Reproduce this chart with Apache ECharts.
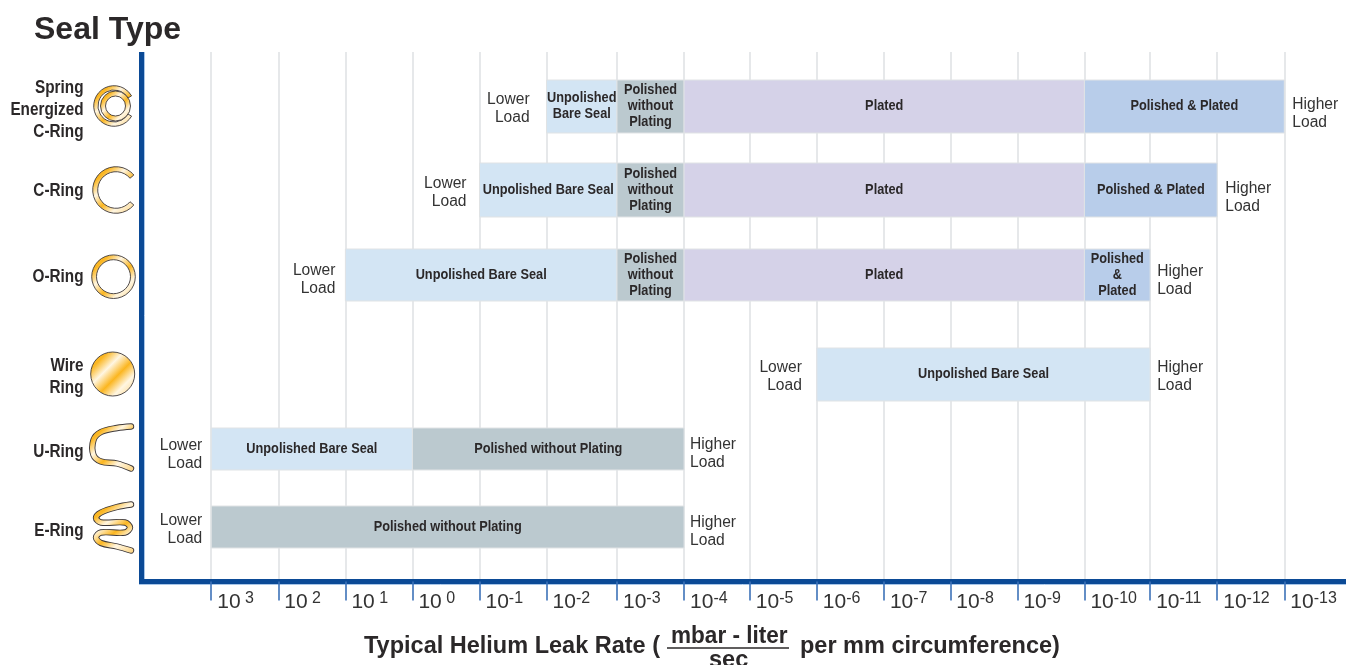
<!DOCTYPE html>
<html lang="en">
<head>
    <meta charset="UTF-8">
    <title>Seal Type</title>
    <script src="https://cdn.jsdelivr.net/npm/echarts@6/dist/echarts.min.js"></script>
    <style>
        html, body { margin: 0; padding: 0; background: #fff; }
        #main { width: 1346px; height: 665px; }
    </style>
</head>
<body>
<div id="main"></div>
<script>
    // chart data
    var sealNames = ['Spring\nEnergized\nC-Ring', 'C-Ring', 'O-Ring', 'Wire\nRing', 'U-Ring', 'E-Ring'];
    var exponents = ['3', '2', '1', '0', '-1', '-2', '-3', '-4', '-5', '-6', '-7', '-8', '-9', '-10', '-11', '-12', '-13'];
    // the decades are not quite evenly spaced in the picture
    var decadeSteps = [0, 1, 2, 3, 4, 5, 6.05, 7.05, 8.03, 9.03, 10.03, 11.02, 12.02, 13.02, 14, 15, 16];

    // one [first decade, last decade, finish, text] per band
    var springBands = [[5, 6, 'bare', 'Unpolished\nBare Seal'], [6, 7, 'polished', 'Polished\nwithout\nPlating'], [7, 13, 'plated', 'Plated'], [13, 16, 'both', 'Polished & Plated']];
    var cRingBands = [[4, 6, 'bare', 'Unpolished Bare Seal'], [6, 7, 'polished', 'Polished\nwithout\nPlating'], [7, 13, 'plated', 'Plated'], [13, 15, 'both', 'Polished & Plated']];
    var oRingBands = [[2, 6, 'bare', 'Unpolished Bare Seal'], [6, 7, 'polished', 'Polished\nwithout\nPlating'], [7, 13, 'plated', 'Plated'], [13, 14, 'both', 'Polished\n&\nPlated']];
    var wireBands = [[9, 14, 'bare', 'Unpolished Bare Seal']];
    var uRingBands = [[0, 3, 'bare', 'Unpolished Bare Seal'], [3, 7, 'polished', 'Polished without Plating']];
    var eRingBands = [[0, 7, 'polished', 'Polished without Plating']];
    var sealBands = [springBands, cRingBands, oRingBands, wireBands, uRingBands, eRingBands];

    // layout, the y axis runs in page pixels
    var finishColors = { bare: '#d3e5f4', polished: '#bbc9cf', plated: '#d5d2e8', both: '#b8cdea' };
    var rowTop = [80, 163, 249, 348, 428, 506];
    var rowBottom = [133, 217, 301, 401, 470, 548];
    var sealLabelY = [110, 191, 277, 377, 452, 531];
    var lowerGap = [17, 13, 10, 15, 9, 9];
    var higherGap = [8, 8, 7, 7, 6, 6];
    var lowerY = [108.5, 192.5, 279.5, 376.5, 454.5, 529.5];
    var higherY = [113.5, 197.5, 280.5, 376.5, 453.5, 531.5];

    var plain = '"Liberation Sans", Arial, sans-serif';
    var ink = '#2b2829';
    // no condensed face is available, so bold text is squeezed sideways
    var squeeze = 0.85;
    var myChart = echarts.init(document.getElementById('main'));

    var bandRows = [];
    var loadRows = [];
    for (var i = 0; i < sealBands.length; i++) {
        for (var j = 0; j < sealBands[i].length; j++) {
            var b = sealBands[i][j];
            bandRows.push([decadeSteps[b[0]], decadeSteps[b[1]], i, b[2], b[3]]);
        }
        var row = sealBands[i];
        loadRows.push([decadeSteps[row[0][0]], decadeSteps[row[row.length - 1][1]], i]);
    }

    function renderBand(params, api) {
        var d = bandRows[params.dataIndex];
        var a = api.coord([d[0], rowTop[d[2]]]);
        var c = api.coord([d[1], rowBottom[d[2]]]);
        var mx = (a[0] + c[0]) / 2;
        var my = (a[1] + c[1]) / 2 - 0.5;
        return {
            type: 'group',
            children: [{
                type: 'rect',
                shape: { x: a[0], y: a[1], width: c[0] - a[0], height: c[1] - a[1] },
                style: { fill: finishColors[d[3]], stroke: '#e0e3e5', lineWidth: 1 }
            }, {
                type: 'text',
                x: mx,
                y: my,
                scaleX: squeeze,
                style: {
                    x: 0,
                    y: 0,
                    text: d[4],
                    fill: ink,
                    font: 'bold 15px ' + plain,
                    lineHeight: 16,
                    align: 'center',
                    verticalAlign: 'middle'
                }
            }]
        };
    }

    function renderLoad(params, api) {
        var d = loadRows[params.dataIndex];
        var r = d[2];
        var low = api.coord([d[0], lowerY[r]]);
        var high = api.coord([d[1], higherY[r]]);
        var font = '15.6px ' + plain;
        return {
            type: 'group',
            children: [{
                type: 'text',
                style: { x: low[0] - lowerGap[r], y: low[1], text: 'Lower\nLoad', fill: '#333', font: font, lineHeight: 18.5, align: 'right', verticalAlign: 'middle' }
            }, {
                type: 'text',
                style: { x: high[0] + higherGap[r], y: high[1], text: 'Higher\nLoad', fill: '#333', font: font, lineHeight: 18.5, align: 'left', verticalAlign: 'middle' }
            }]
        };
    }

    // seal names sit left of the blue axis, right edge at the drawings
    function renderSealName(params, api) {
        var p = api.coord([0, sealLabelY[params.dataIndex]]);
        return {
            type: 'text',
            x: 83.5,
            y: p[1],
            scaleX: squeeze,
            style: {
                x: 0,
                y: 0,
                text: sealNames[params.dataIndex],
                fill: ink,
                font: 'bold 18px ' + plain,
                lineHeight: 22,
                align: 'right',
                verticalAlign: 'middle'
            }
        };
    }

    // gold metal look of the seal drawings
    function gold() {
        return new echarts.graphic.LinearGradient(0, 0, 1, 1, [
            { offset: 0, color: '#fcc34a' },
            { offset: 0.2, color: '#fbb620' },
            { offset: 0.38, color: '#fff6e2' },
            { offset: 0.57, color: '#fbb620' },
            { offset: 0.75, color: '#fff6e2' },
            { offset: 1, color: '#fcd27c' }
        ]);
    }

    var outlineStyle = { fill: gold(), stroke: '#3e393a', lineWidth: 0.9 };

    function cShape(cx, cy, r, r0, gap) {
        return {
            type: 'sector',
            silent: true,
            shape: { cx: cx, cy: cy, r: r, r0: r0, startAngle: gap * Math.PI / 180, endAngle: (360 - gap) * Math.PI / 180 },
            style: outlineStyle
        };
    }

    function wavyShape(points) {
        var line = {
            type: 'polyline',
            silent: true,
            shape: { points: points, smooth: 0.35 },
            style: { fill: null, stroke: '#3e393a', lineWidth: 6.4, lineCap: 'round', lineJoin: 'round' }
        };
        var metal = {
            type: 'polyline',
            silent: true,
            shape: { points: points, smooth: 0.35 },
            style: { fill: null, stroke: gold(), lineWidth: 4.6, lineCap: 'round', lineJoin: 'round' }
        };
        return [line, metal];
    }

    var uRingOutline = [[131, 426.5], [117, 428], [101, 432], [93.5, 440], [93.5, 455], [101, 461.5], [117, 463.5], [131, 468.5]];
    var eRingOutline = [[131, 504.5], [117, 507], [101, 512.5], [96, 518], [101, 522.5], [125, 522.5], [130, 527.5], [125, 532.5], [101, 532.5], [96, 537.5], [101, 543], [117, 546.5], [131, 550.5]];

    var sealDrawings = [
        cShape(114, 106, 20.3, 16, 30),
        { type: 'ring', silent: true, shape: { cx: 115.5, cy: 106, r: 15, r0: 10 }, style: outlineStyle },
        cShape(116, 190, 23.3, 18.3, 40),
        { type: 'ring', silent: true, shape: { cx: 113.5, cy: 276.7, r: 21.8, r0: 17 }, style: outlineStyle },
        { type: 'circle', silent: true, shape: { cx: 112.7, cy: 374, r: 22 }, style: outlineStyle }
    ].concat(wavyShape(uRingOutline), wavyShape(eRingOutline));

    var nameFont = 'bold 23.5px ' + plain;

    var option = {
        animation: false,
        backgroundColor: '#fff',
        title: {
            text: 'Seal Type',
            left: 29,
            top: 9,
            textStyle: { color: ink, fontFamily: plain, fontWeight: 'bold', fontSize: 32 }
        },
        grid: { left: 141.5, right: 0, top: 52, bottom: 83.5 },
        xAxis: {
            type: 'value',
            min: -1.04,
            max: 16.92,
            axisLine: { show: true, onZero: false, lineStyle: { color: '#0b4a96', width: 5, cap: 'square' } },
            axisTick: { show: true, length: 19, customValues: decadeSteps, lineStyle: { color: '#3d72b8', width: 1.6 } },
            splitLine: { show: true, lineStyle: { color: '#e0e3e5', width: 1.6 } },
            axisLabel: {
                customValues: decadeSteps,
                align: 'left',
                margin: 6,
                formatter: function (value) {
                    var e = exponents[decadeSteps.indexOf(value)];
                    return '{base|10}{sup|' + (e.charAt(0) === '-' ? e : ' ' + e) + '}';
                },
                rich: {
                    base: { fontFamily: plain, fontSize: 21, color: '#333', padding: [4, 0, 0, 6] },
                    sup: { fontFamily: plain, fontSize: 16, color: '#333', verticalAlign: 'top', padding: [3, 0, 0, 0] }
                }
            }
        },
        yAxis: {
            type: 'value',
            inverse: true,
            min: 52,
            max: 581.5,
            axisLine: { show: true, onZero: false, lineStyle: { color: '#0b4a96', width: 5, cap: 'butt' } },
            axisTick: { show: false },
            splitLine: { show: false },
            axisLabel: { show: false }
        },
        graphic: [
            // thin light edge the print leaves along the blue axes
            { type: 'line', silent: true, shape: { x1: 144.5, y1: 52, x2: 144.5, y2: 579 }, style: { stroke: '#a8c6e8', lineWidth: 1 } },
            { type: 'line', silent: true, shape: { x1: 139, y1: 584.5, x2: 1346, y2: 584.5 }, style: { stroke: '#a8c6e8', lineWidth: 1 } },
            { type: 'text', left: 364, top: 635, style: { text: 'Typical Helium Leak Rate (', fill: ink, font: nameFont } },
            { type: 'text', left: 671, top: 625, scaleX: 0.96, style: { text: 'mbar - liter', fill: ink, font: nameFont } },
            { type: 'text', left: 709, top: 649, style: { text: 'sec', fill: ink, font: nameFont } },
            { type: 'line', silent: true, shape: { x1: 667, y1: 648, x2: 789, y2: 648 }, style: { stroke: ink, lineWidth: 1.6 } },
            { type: 'text', left: 800, top: 635, style: { text: 'per mm circumference)', fill: ink, font: nameFont } }
        ].concat(sealDrawings),
        series: [{
            type: 'custom',
            name: 'bands',
            clip: false,
            silent: true,
            renderItem: renderBand,
            data: bandRows,
            encode: { x: [0, 1], y: 2 }
        }, {
            type: 'custom',
            name: 'load',
            clip: false,
            silent: true,
            renderItem: renderLoad,
            data: loadRows,
            encode: { x: [0, 1], y: 2 }
        }, {
            type: 'custom',
            name: 'seals',
            clip: false,
            silent: true,
            renderItem: renderSealName,
            data: sealNames.map(function (n, k) { return [0, sealLabelY[k]]; }),
            encode: { x: 0, y: 1 }
        }]
    };
    myChart.setOption(option);
</script>
</body>
</html>
